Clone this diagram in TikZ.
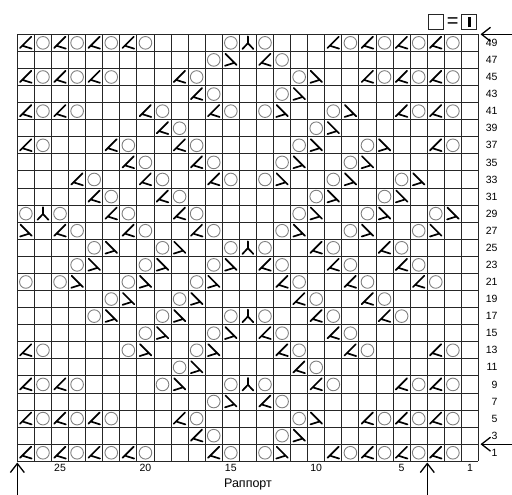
\documentclass[tikz,border=0pt]{standalone}
\usepackage{fontspec}
\setmainfont{Liberation Sans}
\usetikzlibrary{arrows.meta}
\tikzset{
  gridline/.style={line width=0.9pt, draw=black!85},
  symline/.style={line width=1.7pt, draw=black, line cap=round},
  yocirc/.style={line width=0.9pt, draw=black!50},
  rowlabel/.style={anchor=east, inner sep=0pt, font=\fontsize{10.5}{12}\selectfont},
  collabel/.style={anchor=center, inner sep=0pt, font=\fontsize{10.5}{12}\selectfont},
  arrowline/.style={line width=1.3pt, -{Straight Barb[length=9pt,width=14pt,line width=1.3pt]}},
  legendbox/.style={draw=black!85, line width=1pt, minimum size=15pt, inner sep=0pt},
}
\newcommand\symK{\draw[symline] (0.32,0.36) -- (-0.34,-0.3) (-0.2,-0.17) -- (0.34,-0.34);}
\newcommand\symR{\draw[symline] (-0.32,0.36) -- (0.34,-0.3) (0.2,-0.17) -- (-0.34,-0.34);}
\newcommand\symT{\draw[symline] (0,0.38) -- (0,-0.02) (-0.32,-0.36) -- (0,-0.02) -- (0.32,-0.36);}
\newcommand\symO{\draw[yocirc] (0,0) circle[radius=0.37];}
\begin{document}
\begin{tikzpicture}[x=1pt,y=-1pt]
\useasboundingbox (0,0) rectangle (512,495);
% grid
\foreach \i in {0,...,27}
  \draw[gridline] ({17.33+\i*17.08},34.3) -- ({17.33+\i*17.08},461.3);
\foreach \j in {0,...,25}
  \draw[gridline] (17.33,{34.3+\j*17.08}) -- (478.49,{34.3+\j*17.08});
% symbols
\foreach \r/\cells in {
 0/{1/K,2/O,3/K,4/O,5/K,6/O,7/K,8/O,13/O,14/T,15/O,19/K,20/O,21/K,22/O,23/K,24/O,25/K,26/O},
 1/{12/O,13/R,15/K,16/O},
 2/{1/K,2/O,3/K,4/O,5/K,6/O,10/K,11/O,17/O,18/R,21/K,22/O,23/K,24/O,25/K,26/O},
 3/{11/K,12/O,16/O,17/R},
 4/{1/K,2/O,3/K,4/O,8/K,9/O,12/K,13/O,15/O,16/R,19/O,20/R,23/K,24/O,25/K,26/O},
 5/{9/K,10/O,18/O,19/R},
 6/{1/K,2/O,6/K,7/O,10/K,11/O,17/O,18/R,21/O,22/R,25/K,26/O},
 7/{7/K,8/O,11/K,12/O,16/O,17/R,20/O,21/R},
 8/{4/K,5/O,8/K,9/O,12/K,13/O,15/O,16/R,19/O,20/R,23/O,24/R},
 9/{5/K,6/O,9/K,10/O,18/O,19/R,22/O,23/R},
 10/{1/O,2/T,3/O,6/K,7/O,10/K,11/O,17/O,18/R,21/O,22/R,25/O,26/R},
 11/{1/R,3/K,4/O,7/K,8/O,11/K,12/O,16/O,17/R,20/O,21/R,24/O,25/R},
 12/{5/O,6/R,9/O,10/R,13/O,14/T,15/O,18/K,19/O,22/K,23/O},
 13/{4/O,5/R,8/O,9/R,12/O,13/R,15/K,16/O,19/K,20/O,23/K,24/O},
 14/{1/O,3/O,4/R,7/O,8/R,11/O,12/R,16/K,17/O,20/K,21/O,24/K,25/O},
 15/{6/O,7/R,10/O,11/R,17/K,18/O,21/K,22/O},
 16/{5/O,6/R,9/O,10/R,13/O,14/T,15/O,18/K,19/O,22/K,23/O},
 17/{8/O,9/R,12/O,13/R,15/K,16/O,19/K,20/O},
 18/{1/K,2/O,7/O,8/R,11/O,12/R,16/K,17/O,20/K,21/O,25/K,26/O},
 19/{10/O,11/R,17/K,18/O},
 20/{1/K,2/O,3/K,4/O,9/O,10/R,13/O,14/T,15/O,18/K,19/O,23/K,24/O,25/K,26/O},
 21/{12/O,13/R,15/K,16/O},
 22/{1/K,2/O,3/K,4/O,5/K,6/O,10/K,11/O,17/O,18/R,21/K,22/O,23/K,24/O,25/K,26/O},
 23/{11/K,12/O,16/O,17/R},
 24/{1/K,2/O,3/K,4/O,5/K,6/O,7/K,8/O,12/K,13/O,15/O,16/R,19/K,20/O,21/K,22/O,23/K,24/O,25/K,26/O}}{
  \foreach \c/\s in \cells {
    \begin{scope}[shift={({17.33+(\c-0.5)*17.08},{34.3+(\r+0.5)*17.08})}, x=17.08pt, y=17.08pt]
      \csname sym\s\endcsname
    \end{scope}
  }
}
% row labels
\foreach \r in {0,...,24} {
  \pgfmathtruncatemacro\lab{49-2*\r}
  \node[rowlabel] (rl\r) at (497.7,{34.3+(\r+0.5)*17.08}) {\lab};
}
% column labels
\foreach \n/\c in {25/3,20/8,15/13,10/18,5/23,1/27}
  \node[collabel] (cl\n) at ({17.33+(\c-0.5)*17.08},467.5) {\n};
\node[font=\fontsize{12.5}{14}\selectfont, inner sep=0pt] (rap) at (248,484.5) {Раппорт};
% legend
\node[legendbox] (leg1) at (435.8,22.5) {};
\node[font=\fontsize{20}{20}\selectfont, inner sep=0pt] (eq) at (452.6,23) {=};
\node[legendbox] (leg2) at (469.2,22.5) {};
\draw[line width=2.8pt] ([yshift=-5pt]leg2.center) -- ([yshift=5pt]leg2.center);
% arrows
\coordinate (a1s) at (512,34.3);   \coordinate (a1e) at (480.5,34.3);
\coordinate (a2s) at (512,444.2);  \coordinate (a2e) at (480.5,444.2);
\coordinate (a3s) at (17.33,495);  \coordinate (a3e) at (17.33,462.5);
\coordinate (a4s) at (427.3,495);  \coordinate (a4e) at (427.3,462.5);
\draw[arrowline] (a1s) -- (a1e);
\draw[arrowline] (a2s) -- (a2e);
\draw[arrowline] (a3s) -- (a3e);
\draw[arrowline] (a4s) -- (a4e);
\end{tikzpicture}
\end{document}
